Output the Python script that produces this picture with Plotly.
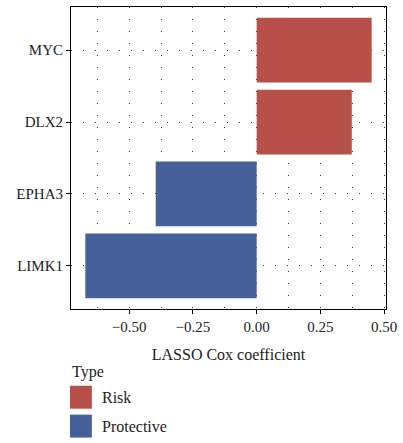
import plotly.graph_objects as go

# LASSO Cox coefficients per gene
genes = ["MYC", "DLX2", "EPHA3", "LIMK1"]
coefficients = [0.451, 0.373, -0.396, -0.672]
types = ["Risk", "Risk", "Protective", "Protective"]

type_levels = ["Risk", "Protective"]
type_colors = {"Risk": "#B8504A", "Protective": "#46609A"}

x_ticks = [-0.50, -0.25, 0.00, 0.25, 0.50]
x_ticktext = ["\u22120.50", "\u22120.25", "0.00", "0.25", "0.50"]

FONT = "Liberation Serif"
W, H = 403, 443
M_L, M_R, M_T, M_B = 71, 15, 6, 134
PLOT_H = H - M_T - M_B
PLOT_W = W - M_L - M_R


def px_x(x):
    return (x - M_L) / PLOT_W


def px_y(y):
    return (H - M_B - y) / PLOT_H


fig = go.Figure()
for t in type_levels:
    sel = [i for i, tt in enumerate(types) if tt == t]
    fig.add_trace(go.Bar(
        x=[coefficients[i] for i in sel],
        y=[genes[i] for i in sel],
        orientation="h",
        width=0.9,
        marker=dict(color=type_colors[t], line=dict(width=0)),
        name=t,
        showlegend=False,
    ))

span = max(coefficients) - min(coefficients)
x_range = [min(coefficients) - 0.05 * span, max(coefficients) + 0.05 * span]

grid_dash = "1.3px,10.7px"
grid_color = "#3a3a3a"
fig.update_layout(
    width=W, height=H,
    margin=dict(l=M_L, r=M_R, t=M_T, b=M_B),
    paper_bgcolor="white", plot_bgcolor="white",
    font=dict(family=FONT, size=15, color="#222222"),
    bargap=0.1,
    xaxis=dict(
        range=x_range,
        tickvals=x_ticks, ticktext=x_ticktext,
        ticks="outside", ticklen=4, tickcolor="black", tickwidth=1,
        showline=True, linecolor="black", linewidth=1, mirror=True,
        showgrid=True, gridcolor=grid_color, gridwidth=1, griddash=grid_dash,
        minor=dict(dtick=0.125, tick0=0, showgrid=True, gridcolor=grid_color,
                   gridwidth=1, griddash=grid_dash, ticks=""),
        zeroline=False,
        tickfont=dict(family=FONT, size=15, color="#222222"),
        title=dict(text="LASSO Cox coefficient", standoff=14,
                   font=dict(family=FONT, size=16, color="#222222")),
    ),
    yaxis=dict(
        categoryorder="array", categoryarray=genes[::-1],
        range=[-0.6, len(genes) - 0.4],
        ticks="outside", ticklen=4, tickcolor="black", tickwidth=1,
        showline=True, linecolor="black", linewidth=1, mirror=True,
        showgrid=True, gridcolor=grid_color, gridwidth=1, griddash=grid_dash,
        zeroline=False,
        tickfont=dict(family=FONT, size=15, color="#222222"),
    ),
)

# Legend: title and colour keys below the plot
fig.add_annotation(text="Type", x=px_x(70), y=px_y(372), xref="paper", yref="paper",
                   xanchor="left", yanchor="middle", showarrow=False,
                   font=dict(family=FONT, size=16, color="#222222"))
key_top = [386, 415]
for t, top in zip(type_levels, key_top):
    fig.add_shape(type="rect", xref="paper", yref="paper",
                  x0=px_x(70), x1=px_x(92), y0=px_y(top), y1=px_y(top + 23),
                  fillcolor=type_colors[t], line=dict(width=0))
    fig.add_annotation(text=t, x=px_x(100), y=px_y(top + 11.5), xref="paper", yref="paper",
                       xanchor="left", yanchor="middle", showarrow=False,
                       font=dict(family=FONT, size=16, color="#222222"))

fig.write_html("out.html")
